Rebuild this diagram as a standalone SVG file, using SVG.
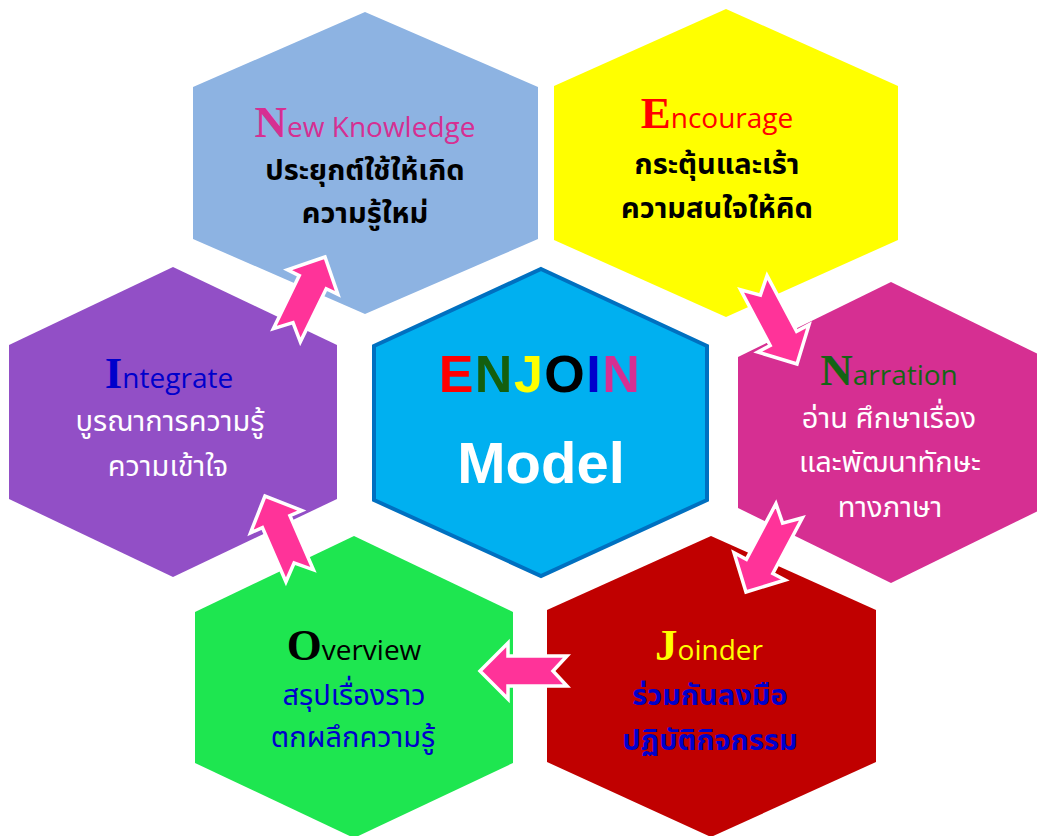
<svg xmlns="http://www.w3.org/2000/svg" width="1037" height="836" viewBox="0 0 1037 836">
<style>
.cap{font-family:"Liberation Serif",serif;font-weight:bold;font-size:45px}
.ttl{font-family:"Open Sans","Noto Sans",sans-serif;font-size:28px}
.th{font-family:"Noto Sans Thai","Noto Sans","DejaVu Sans",sans-serif;font-size:29px;text-anchor:middle}
.b{font-weight:bold}
.arrow{fill:#FF3399;stroke:#FFFFFF;stroke-width:3.5;stroke-linejoin:miter}
.big{font-family:"Liberation Sans",Arial,sans-serif;font-weight:bold;text-anchor:middle}
</style>
<defs>
<path id="arr87" d="M0,0 L-28,-28 L-28,-15 L-87,-15 L-73,0 L-87,15 L-28,15 L-28,28 Z"/>
<path id="arr92" d="M0,0 L-29,-29 L-29,-15 L-92,-15 L-78,0 L-92,15 L-29,15 L-29,29 Z"/>
</defs>
<rect width="1037" height="836" fill="#FFFFFF"/>

<g id="node-new-knowledge">
<polygon points="365,12 538,87 538,239 365,314 193,239 193,87" fill="#8DB3E2"/>
<text x="365" y="137" text-anchor="middle"><tspan class="cap" fill="#D62F92">N</tspan><tspan class="ttl" fill="#D62F92">ew Knowledge</tspan></text>
<text class="th b" x="365" y="180" fill="#000000">ประยุกต์ใช้ให้เกิด</text>
<text class="th b" x="365" y="223" fill="#000000">ความรู้ใหม่</text>
</g>

<g id="node-encourage">
<polygon points="726,9 898,86 898,240 726,317 554,240 554,86" fill="#FFFF00"/>
<text x="717" y="128" text-anchor="middle"><tspan class="cap" fill="#FF0000">E</tspan><tspan class="ttl" fill="#FF0000">ncourage</tspan></text>
<text class="th b" x="717" y="174" fill="#000000">กระตุ้นและเร้า</text>
<text class="th b" x="717" y="218" fill="#000000">ความสนใจให้คิด</text>
</g>

<g id="node-integrate">
<polygon points="173,267 337,345 337,499 173,577 9,499 9,345" fill="#924FC6"/>
<text x="169" y="388" text-anchor="middle"><tspan class="cap" fill="#0000CC">I</tspan><tspan class="ttl" fill="#0000CC">ntegrate</tspan></text>
<text class="th" x="170" y="431" fill="#FFFFFF" font-size="31">บูรณาการความรู้</text>
<text class="th" x="168" y="476" fill="#FFFFFF" font-size="31">ความเข้าใจ</text>
</g>

<g id="node-center">
<polygon points="541,269 707,346 707,500 541,576 374,500 374,346" fill="#00B0F0" stroke="#0070C0" stroke-width="4"/>
<text class="big" x="540" y="392" font-size="52" letter-spacing="1.5"><tspan fill="#FF0000">E</tspan><tspan fill="#145F0E">N</tspan><tspan fill="#FFFF00">J</tspan><tspan fill="#000000">O</tspan><tspan fill="#0000CC">I</tspan><tspan fill="#D62F92">N</tspan></text>
<text class="big" x="541" y="483" font-size="58" fill="#FFFFFF">Model</text>
</g>

<g id="node-narration">
<polygon points="891,282 1044,357 1044,508 891,583 738,508 738,357" fill="#D62F92"/>
<text x="889" y="385" text-anchor="middle"><tspan class="cap" fill="#146414">N</tspan><tspan class="ttl" fill="#146414">arration</tspan></text>
<text class="th" x="889" y="428" fill="#FFFFFF" font-size="31">อ่าน ศึกษาเรื่อง</text>
<text class="th" x="890" y="472" fill="#FFFFFF" font-size="31">และพัฒนาทักษะ</text>
<text class="th" x="890" y="517" fill="#FFFFFF" font-size="31">ทางภาษา</text>
</g>

<g id="node-joinder">
<polygon points="711,536 876,610 876,762 711,837 547,762 547,610" fill="#C00000"/>
<text x="709" y="660" text-anchor="middle"><tspan class="cap" fill="#FFFF00">J</tspan><tspan class="ttl" fill="#FFFF00">oinder</tspan></text>
<text class="th b" x="710" y="705" fill="#0000CC">ร่วมกันลงมือ</text>
<text class="th b" x="710" y="750" fill="#0000CC">ปฏิบัติกิจกรรม</text>
</g>

<g id="node-overview">
<polygon points="354,536 513,612 513,763 354,838 195,763 195,612" fill="#1EE650"/>
<text x="354" y="660" text-anchor="middle"><tspan class="cap" fill="#000000">O</tspan><tspan class="ttl" fill="#000000">verview</tspan></text>
<text class="th" x="354" y="705" fill="#0000CC" font-size="30">สรุปเรื่องราว</text>
<text class="th" x="353" y="747" fill="#0000CC" font-size="30">ตกผลึกความรู้</text>
</g>

<g id="connectors">
<use href="#arr87" class="arrow" transform="translate(325,257) rotate(-64)"/>
<use href="#arr92" class="arrow" transform="translate(797,364) rotate(62)"/>
<use href="#arr92" class="arrow" transform="translate(746,592) rotate(118)"/>
<use href="#arr87" class="arrow" transform="translate(480,671) rotate(180)"/>
<use href="#arr87" class="arrow" transform="translate(265,496) rotate(-113.5)"/>
</g>
</svg>
